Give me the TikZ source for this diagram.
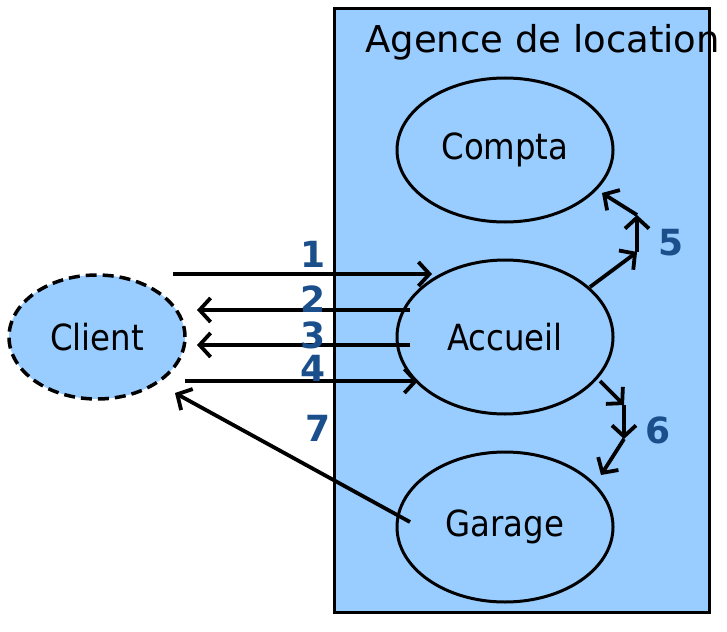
\documentclass[tikz,border=0pt]{standalone}
\usepackage{fontspec}
\setmainfont{DejaVu Sans}
\newfontfamily\condfont{DejaVu Sans Condensed}
\usetikzlibrary{shapes.geometric,arrows.meta}
\definecolor{boxblue}{HTML}{99CCFF}
\definecolor{numblue}{HTML}{1B4F8C}
\begin{document}
\begin{tikzpicture}[x=1pt,y=-1pt,
  uc/.style={ellipse,draw,line width=3pt,fill=boxblue,inner sep=0pt,
    font=\condfont\fontsize{36}{40}\selectfont},
  flow/.style={line width=3.8pt,-{Straight Barb[length=11pt,width=24pt]}},
  num/.style={font=\bfseries\fontsize{36}{40}\selectfont,text=numblue,inner sep=0pt,
    text height=26pt,text depth=0pt}]
\useasboundingbox (0,0) rectangle (727,631);
% agency box
\draw[line width=3pt,fill=boxblue] (334,9) rectangle (709,612);
\node[anchor=base west,inner sep=0pt,font=\fontsize{37}{40}\selectfont] (title) at (365,53) {Agence de location};
% use cases
\node[uc,minimum width=216pt,minimum height=144pt] (compta) at (505,150) {Compta};
\node[uc,minimum width=216pt,minimum height=154pt] (accueil) at (505,337) {Accueil};
\node[uc,minimum width=216pt,minimum height=150pt] (garage) at (505,527) {Garage};
\node[uc,dashed,dash pattern=on 11pt off 6pt,line width=3.5pt,minimum width=176pt,minimum height=124pt] (client) at (97,337) {Client};
% coordinates
\coordinate (a1s) at (173,274); \coordinate (a1e) at (432,274);
\coordinate (a2s) at (410,310); \coordinate (a2e) at (197,310);
\coordinate (a3s) at (410,345); \coordinate (a3e) at (197,345);
\coordinate (a4s) at (185,381); \coordinate (a4e) at (418,381);
\coordinate (a7s) at (410,522); \coordinate (a7e) at (175,393);
\coordinate (p5a) at (590,287); \coordinate (p5b) at (637,252);
\coordinate (p5c) at (637,215); \coordinate (p5d) at (602,193);
\coordinate (p6a) at (600,381); \coordinate (p6b) at (624,405);
\coordinate (p6c) at (624,439); \coordinate (p6d) at (601,475);
% arrows
\draw[flow] (a1s) -- (a1e);
\draw[flow] (a2s) -- (a2e);
\draw[flow] (a3s) -- (a3e);
\draw[flow] (a4s) -- (a4e);
\draw[flow] (a7s) -- (a7e);
\draw[flow] (p5a) -- (p5b);
\draw[flow] (p5b) -- (p5c);
\draw[flow] (p5c) -- (p5d);
\draw[flow] (p6a) -- (p6b);
\draw[flow] (p6b) -- (p6c);
\draw[flow] (p6c) -- (p6d);
% numbers
\node[num] (n1) at (313,254) {1};
\node[num] (n2) at (313,299) {2};
\node[num] (n3) at (313,335) {3};
\node[num] (n4) at (313,368) {4};
\node[num] (n5) at (671,242) {5};
\node[num] (n6) at (658,430) {6};
\node[num] (n7) at (318,428) {7};
\end{tikzpicture}
\end{document}
